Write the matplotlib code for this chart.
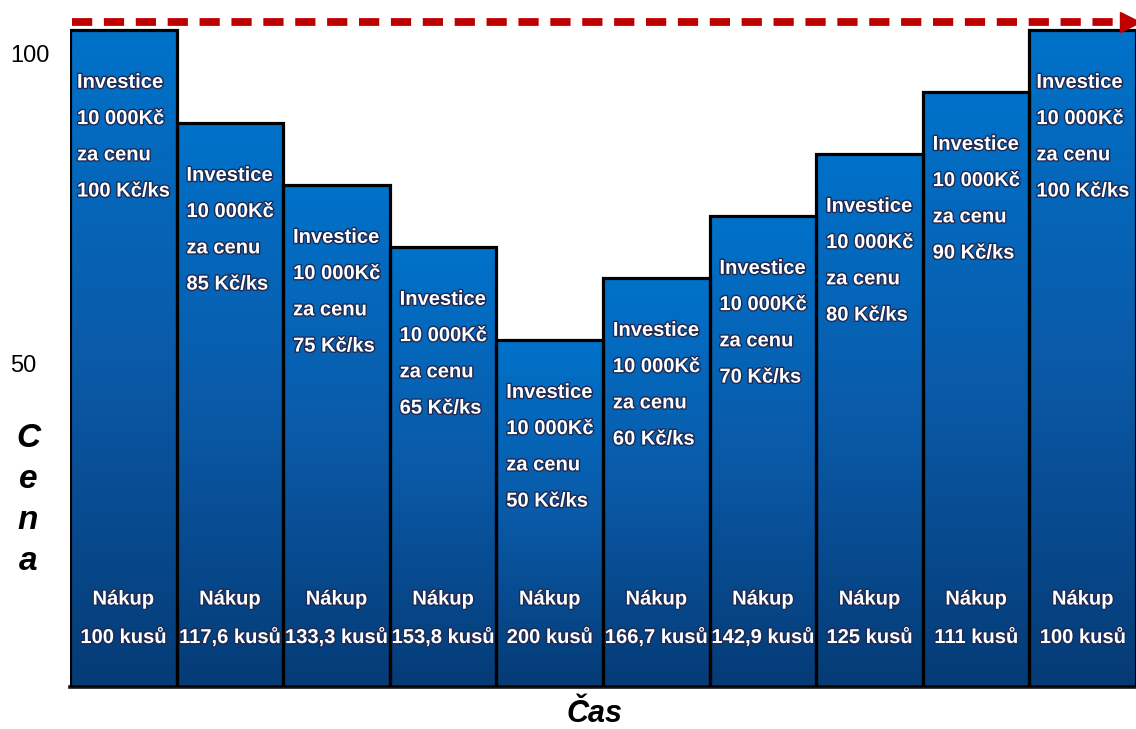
import numpy as np
import matplotlib
matplotlib.use("Agg")
import matplotlib.pyplot as plt
import matplotlib.transforms as mtransforms
import matplotlib.patheffects as pe
from matplotlib.colors import LinearSegmentedColormap

# ceny za kus (Kč/ks) a nakoupené množství v jednotlivých obdobích
prices = [100, 85, 75, 65, 50, 60, 70, 80, 90, 100]
pieces = [100, 117.6, 133.3, 153.8, 200, 166.7, 142.9, 125, 111, 100]
investment = "10 000Kč"
ytick_values = [100, 50]

BASE = -6          # spodní okraj osy y
TOP = 104.8

arial = ["Liberation Sans", "DejaVu Sans"]

fig = plt.figure(figsize=(11.36, 7.29), dpi=100)
ax = fig.add_axes([70 / 1136, 42 / 729, 1066 / 1136, 687 / 729])
ax.set_xlim(-0.5, len(prices) - 0.5)
ax.set_ylim(BASE, TOP)

grad = LinearSegmentedColormap.from_list("bluegrad", ["#053b76", "#0a5aa8", "#0072ca"])
gradient = np.linspace(0, 1, 256).reshape(-1, 1)

x = np.arange(len(prices))
bars = ax.bar(x, np.array(prices) - BASE, bottom=BASE, width=1.0,
              facecolor="none", edgecolor="black", linewidth=2.3, zorder=3)

shadow = [pe.withStroke(linewidth=2.0, foreground="#1d2b55")]
for xi, bar, p, q in zip(x, bars, prices, pieces):
    im = ax.imshow(gradient, cmap=grad, origin="lower", aspect="auto",
                   extent=(xi - 0.5, xi + 0.5, BASE, p), zorder=2)
    im.set_clip_path(bar)
    label = f"Investice\n{investment}\nza cenu\n{p} Kč/ks"
    off = mtransforms.offset_copy(ax.transData, fig=fig, y=-31, units="points")
    ax.text(xi, p, label, transform=off, ha="center", va="top",
            multialignment="left", color="white", fontsize=14.5,
            fontweight="bold", family=arial, linespacing=2.15,
            path_effects=shadow, zorder=4)
    qs = f"{q:g}".replace(".", ",")
    ax.text(xi, 0.10, f"Nákup\n{qs} kusů",
            transform=mtransforms.blended_transform_factory(ax.transData, ax.transAxes),
            ha="center", va="center", color="white", fontsize=14.5,
            fontweight="bold", family=arial, linespacing=2.3,
            path_effects=shadow, zorder=4)

# červená přerušovaná šipka nahoře
arrow_y = max(prices) + 1.3
ax.plot([-0.48, len(prices) - 0.6], [arrow_y, arrow_y], color="#c00000",
        linewidth=5.6, linestyle=(0, (2.6, 1.5)), solid_capstyle="butt",
        clip_on=False, zorder=5)
ax.plot([len(prices) - 0.56], [arrow_y], marker=">", markersize=15,
        color="#c00000", clip_on=False, zorder=5)

for s in ["left", "right", "top"]:
    ax.spines[s].set_visible(False)
ax.spines["bottom"].set_linewidth(2.6)
ax.spines["bottom"].set_color("#111111")
ax.set_xticks([])

ax.set_yticks(ytick_values)
ax.set_yticklabels([str(v) for v in ytick_values])
ax.tick_params(axis="y", length=0, pad=43, labelsize=17)
shift = mtransforms.ScaledTranslation(0, -0.24, fig.dpi_scale_trans)
for lab in ax.get_yticklabels():
    lab.set_horizontalalignment("left")
    lab.set_family(arial)
    lab.set_transform(lab.get_transform() + shift)

fig.text(28 / 1136, 0.314, "C\ne\nn\na", ha="center", va="center",
         fontsize=24, fontweight="bold", fontstyle="italic", family=arial,
         linespacing=1.42)
fig.text(595 / 1136, 0.02, "Čas", ha="center", va="center",
         fontsize=22, fontweight="bold", fontstyle="italic", family=arial)

fig.savefig("out.png", dpi=100)
